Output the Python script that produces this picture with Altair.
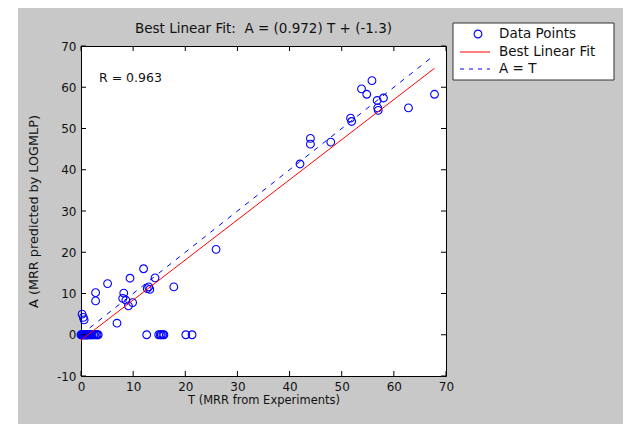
import altair as alt
import pandas as pd

FONT = "DejaVu Sans"
INK = "#111111"

# ---- data ----
zero_row_T = [0, 0.1, 0.2, 0.3, 0.4, 0.5, 0.6, 0.7, 0.8, 0.9, 1.0, 1.1, 1.2, 1.3,
              1.5, 1.7, 1.9, 2.1, 2.4, 2.6, 2.9, 3.1, 3.3, 12.6, 14.9, 15.2, 15.4,
              15.7, 15.9, 20.1, 21.3]
zero_row_A = [0] * len(zero_row_T)

other_T = [0.2, 0.45, 0.6, 2.8, 2.8, 5.1, 6.9, 8.2, 8.0, 8.6, 9.1, 9.9, 9.4,
           12.0, 12.7, 13.0, 13.2, 14.2, 17.8, 25.9, 42.0, 44.0, 44.0, 47.9,
           51.7, 51.9, 53.8, 54.8, 55.8, 56.8, 58.0, 56.9, 57.0, 62.8, 67.8]
other_A = [5.0, 4.2, 3.6, 10.2, 8.2, 12.4, 2.8, 10.1, 8.8, 8.4, 7.0, 7.8, 13.7,
           16.0, 11.2, 11.6, 11.0, 13.8, 11.6, 20.7, 41.4, 47.6, 46.2, 46.7,
           52.5, 51.7, 59.6, 58.3, 61.6, 56.8, 57.4, 55.0, 54.4, 55.0, 58.3]

fit_T = [0, 67.8]
fit_A = [-1.3, 64.6]
ident_T = [0, 67.8]
ident_A = [0, 67.8]

x_ticks = [0, 10, 20, 30, 40, 50, 60, 70]
y_ticks = [-10, 0, 10, 20, 30, 40, 50, 60, 70]

title_text = "Best Linear Fit:\u00a0 A = (0.972) T + (-1.3)"
r_label = ["R = 0.963"]
r_pos_T = [3.45]
r_pos_A = [62.2]
legend_labels = ["Data Points", "Best Linear Fit", "A = T"]

# ---- tables ----
pts = pd.DataFrame({"T": zero_row_T + other_T, "A": zero_row_A + other_A})
fit = pd.DataFrame({"T": fit_T, "A": fit_A})
ident = pd.DataFrame({"T": ident_T, "A": ident_A})
xt = pd.DataFrame({"T": x_ticks})
yt = pd.DataFrame({"A": y_ticks})
rdf = pd.DataFrame({"T": r_pos_T, "A": r_pos_A, "label": r_label})
one = pd.DataFrame({"k": [0]})

W, H = 365, 330

xs = alt.Scale(domain=[0, 70], nice=False, zero=False)
ys = alt.Scale(domain=[-10, 70], nice=False, zero=False)
common = dict(grid=False, domain=False, ticks=False, labelFont=FONT,
              labelFontSize=12, labelColor=INK, titleFont=FONT,
              titleFontWeight="normal", titleColor=INK,
              labelFlush=False, labelExpr="'' + datum.value")
xaxis = alt.Axis(values=x_ticks, title="T (MRR from Experiments)",
                 labelPadding=5, titlePadding=2, titleFontSize=11.5, **common)
yaxis = alt.Axis(values=y_ticks, title="A (MRR predicted by LOGMLP)",
                 labelPadding=5, titlePadding=16, titleFontSize=12.8, **common)
X = alt.X("T:Q", scale=xs, axis=xaxis)
Y = alt.Y("A:Q", scale=ys, axis=yaxis)

# white strip at the far left of the figure, as in the screenshot
strip = alt.Chart(one).mark_rect(fill="white", strokeWidth=0).encode(
    x=alt.value(-73), x2=alt.value(-63), y=alt.value(-38), y2=alt.value(H + 48))

points = alt.Chart(pts).mark_point(shape="circle", filled=False, color="#0000ff",
                                   size=60, strokeWidth=1.1, opacity=1).encode(x=X, y=Y)
fit_line = alt.Chart(fit).mark_line(color="#ff0000", strokeWidth=1).encode(x=X, y=Y)
ident_line = alt.Chart(ident).mark_line(color="#0000ff", strokeWidth=1,
                                        strokeDash=[5, 6]).encode(x=X, y=Y)

tick_style = dict(color="black", strokeWidth=1)
tx_b = alt.Chart(xt).mark_rule(**tick_style).encode(x=X, y=alt.value(H), y2=alt.value(H - 5))
tx_t = alt.Chart(xt).mark_rule(**tick_style).encode(x=X, y=alt.value(0), y2=alt.value(5))
ty_l = alt.Chart(yt).mark_rule(**tick_style).encode(y=Y, x=alt.value(0), x2=alt.value(5))
ty_r = alt.Chart(yt).mark_rule(**tick_style).encode(y=Y, x=alt.value(W), x2=alt.value(W - 5))

r_text = alt.Chart(rdf).mark_text(align="left", baseline="middle", font=FONT,
                                  fontSize=12.5, color=INK).encode(x=X, y=Y, text="label:N")

# ---- legend (drawn as a boxed key to the right of the axes) ----
lg_box = alt.Chart(one).mark_rect(fill="white", stroke="#333333", strokeWidth=1).encode(
    x=alt.value(372), x2=alt.value(533), y=alt.value(-23), y2=alt.value(34))
lg_pt = alt.Chart(one).mark_point(shape="circle", filled=False, color="#0000ff",
                                  size=60, strokeWidth=1.1, opacity=1).encode(
    x=alt.value(397), y=alt.value(-12))
lg_red = alt.Chart(one).mark_rule(color="#ff0000", strokeWidth=1).encode(
    x=alt.value(379), x2=alt.value(409), y=alt.value(6))
lg_dash = alt.Chart(one).mark_rule(color="#0000ff", strokeWidth=1, strokeDash=[4, 5]).encode(
    x=alt.value(379), x2=alt.value(409), y=alt.value(23))
lg_texts = [
    alt.Chart(one).mark_text(align="left", baseline="middle", font=FONT, fontSize=13.5,
                             color=INK).encode(x=alt.value(418), y=alt.value(yy),
                                               text=alt.value(lbl))
    for lbl, yy in zip(legend_labels, [-12, 6, 23])
]

chart = alt.layer(
    strip, points, fit_line, ident_line, tx_b, tx_t, ty_l, ty_r, r_text,
    lg_box, lg_pt, lg_red, lg_dash, *lg_texts
).properties(
    width=W, height=H,
    title=alt.TitleParams(title_text, font=FONT, fontSize=13.5, fontWeight="normal",
                          color=INK, anchor="middle", frame="group", offset=-27),
    autosize=alt.AutoSizeParams(type="none"),
    padding={"left": 73, "top": 38, "right": 177, "bottom": 48},
    background="#c8c8c8",
).configure_view(stroke="black", strokeWidth=1, fill="white")

chart.save("out.html", embed_options={"renderer": "svg", "actions": False})
